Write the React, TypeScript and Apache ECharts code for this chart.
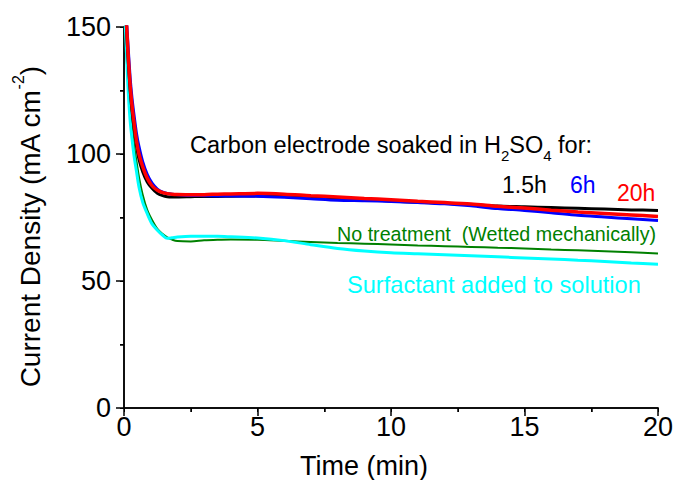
import React, { useEffect, useRef } from "react";
import * as echarts from "echarts";

const time = [0, 0.05, 0.1, 0.15, 0.23, 0.3, 0.38, 0.47, 0.56, 0.7, 0.87, 1.05, 1.25, 1.45, 1.62, 1.8, 2.0, 2.5, 3, 3.5, 4, 5, 6, 7, 8, 9, 10, 11, 12, 13, 14, 15, 16, 17, 18, 19, 20];

const soaked20h = [175, 162, 150, 140, 127, 119, 112, 105, 100, 95, 90.5, 87.5, 85.7, 84.8, 84.4, 84.2, 84.1, 84.0, 84.0, 84.2, 84.3, 84.5, 84.2, 83.6, 83.1, 82.5, 82.0, 81.4, 80.9, 80.3, 79.4, 78.7, 77.9, 77.2, 76.6, 76.0, 75.4];
const soaked6h = [178, 165, 152, 143, 130, 122, 115, 108, 103, 97, 92, 88.5, 86.2, 85.0, 84.5, 84.2, 84.0, 83.7, 83.6, 83.5, 83.5, 83.4, 83.0, 82.4, 81.8, 81.6, 81.3, 80.9, 80.4, 79.6, 78.5, 77.8, 76.9, 75.9, 75.2, 74.5, 73.8];
const soaked1_5h = [172, 160, 148, 138, 125, 117, 110, 103, 98, 93, 89, 86.5, 84.5, 83.6, 83.2, 83.1, 83.1, 83.2, 83.3, 83.3, 83.4, 83.5, 83.3, 82.8, 82.4, 82.0, 81.5, 81.0, 80.6, 80.1, 79.5, 79.2, 78.9, 78.6, 78.3, 78.0, 77.8];
const noTreatment = [165, 150, 138, 128, 118, 110, 103, 97, 91, 84, 78, 74, 70.5, 68.5, 67.2, 66.3, 65.7, 65.6, 66.0, 66.2, 66.3, 66.2, 65.8, 65.4, 65.0, 64.7, 64.4, 64.0, 63.7, 63.4, 63.1, 62.8, 62.4, 62.1, 61.7, 61.3, 60.8];
const surfactant = [165, 150, 138, 126, 113, 106, 99, 93, 87, 81, 76.5, 72.5, 70, 68, 66.8, 67.0, 67.3, 67.6, 67.6, 67.6, 67.4, 66.9, 65.9, 64.3, 62.8, 61.8, 61.1, 60.7, 60.3, 59.9, 59.5, 59.1, 58.7, 58.2, 57.7, 57.1, 56.6];

const xTicks = [0, 5, 10, 15, 20];
const yTicks = [0, 50, 100, 150];

const FONT = "Liberation Sans, Arial, sans-serif";

function pairs(ys: number[]) {
  return time.map((t, i) => [t, ys[i]]);
}

export default function App() {
  const ref = useRef<HTMLDivElement>(null);
  useEffect(() => {
    if (!ref.current) return;
    document.body.style.margin = "0";
    const chart = echarts.init(ref.current, undefined, { renderer: "svg" });
    const axisLine = { show: true, lineStyle: { color: "#000", width: 1.5 } };
    const mk = (name: string, ys: number[], color: string, width: number) => ({
      name,
      type: "line",
      data: pairs(ys),
      showSymbol: false,
      symbol: "none",
      smooth: 0.3,
      clip: true,
      lineStyle: { color, width },
      z: 2,
    });
    chart.setOption({
      animation: false,
      backgroundColor: "#fff",
      grid: { left: 124, right: 19, top: 27, bottom: 72, containLabel: false },
      xAxis: [
        {
          type: "value",
          min: xTicks[0],
          max: xTicks[xTicks.length - 1],
          interval: 5,
          position: "bottom",
          axisLine,
          axisTick: { show: true, inside: false, length: 8, lineStyle: { color: "#000", width: 1.5 } },
          minorTick: { show: true, splitNumber: 2, length: 4, lineStyle: { color: "#000", width: 1.5 } },
          splitLine: { show: false },
          axisLabel: { color: "#000", fontSize: 27, fontFamily: FONT, margin: 5 },
        },
        {
          type: "value",
          min: 0,
          max: 20,
          interval: 2.5,
          position: "top",
          axisLine,
          axisTick: { show: true, inside: true, length: 4, lineStyle: { color: "#000", width: 1 } },
          splitLine: { show: false },
          axisLabel: { show: false },
        },
      ],
      yAxis: [
        {
          type: "value",
          min: yTicks[0],
          max: yTicks[yTicks.length - 1],
          interval: 50,
          position: "left",
          axisLine,
          axisTick: { show: true, inside: false, length: 8, lineStyle: { color: "#000", width: 1.5 } },
          minorTick: { show: true, splitNumber: 2, length: 4, lineStyle: { color: "#000", width: 1.5 } },
          splitLine: { show: false },
          axisLabel: { color: "#000", fontSize: 27, fontFamily: FONT, margin: 13 },
        },
        {
          type: "value",
          min: 0,
          max: 150,
          interval: 25,
          position: "right",
          axisLine,
          axisTick: { show: true, inside: true, length: 4, lineStyle: { color: "#000", width: 1 } },
          splitLine: { show: false },
          axisLabel: { show: false },
        },
      ],
      series: [
        mk("No treatment", noTreatment, "#008000", 2),
        mk("Surfactant", surfactant, "#00ffff", 3),
        mk("1.5h", soaked1_5h, "#000000", 3),
        mk("6h", soaked6h, "#0000ff", 3),
        mk("20h", soaked20h, "#ff0000", 3.5),
      ],
      graphic: [
        {
          type: "text",
          x: 364,
          y: 466,
          style: { text: "Time (min)", fill: "#000", font: `27px ${FONT}`, align: "center", verticalAlign: "middle" },
        },
        {
          type: "text",
          x: 30,
          y: 227,
          rotation: Math.PI / 2,
          style: {
            text: "Current Density (mA cm{sup|-2})",
            fill: "#000",
            font: `28px ${FONT}`,
            align: "center",
            verticalAlign: "middle",
            rich: {
              sup: { fontSize: 16, fontFamily: FONT, fill: "#000", lineHeight: 14, verticalAlign: "top" },
            },
            lineHeight: 40,
          },
        },
        {
          type: "text",
          x: 190,
          y: 145,
          style: {
            text: "Carbon electrode soaked in H{sub|2}SO{sub|4} for:",
            fill: "#000",
            font: `23.5px ${FONT}`,
            lineHeight: 36,
            align: "left",
            verticalAlign: "middle",
            rich: {
              sub: { fontSize: 15, fontFamily: FONT, fill: "#000", lineHeight: 14, verticalAlign: "bottom" },
            },
          },
        },
        { type: "text", x: 502, y: 185, style: { text: "1.5h", fill: "#000", font: `23px ${FONT}`, verticalAlign: "middle" } },
        { type: "text", x: 570, y: 185, style: { text: "6h", fill: "#0000ff", font: `23px ${FONT}`, verticalAlign: "middle" } },
        { type: "text", x: 617, y: 193, style: { text: "20h", fill: "#ff0000", font: `23px ${FONT}`, verticalAlign: "middle" } },
        { type: "text", x: 337, y: 234, style: { text: "No treatment  (Wetted mechanically)", fill: "#008000", font: `19.7px ${FONT}`, verticalAlign: "middle" } },
        { type: "text", x: 347, y: 284.5, style: { text: "Surfactant added to solution", fill: "#00ffff", font: `23.6px ${FONT}`, verticalAlign: "middle" } },
      ],
    });
    return () => chart.dispose();
  }, []);
  return <div ref={ref} style={{ width: 677, height: 480 }} />;
}
